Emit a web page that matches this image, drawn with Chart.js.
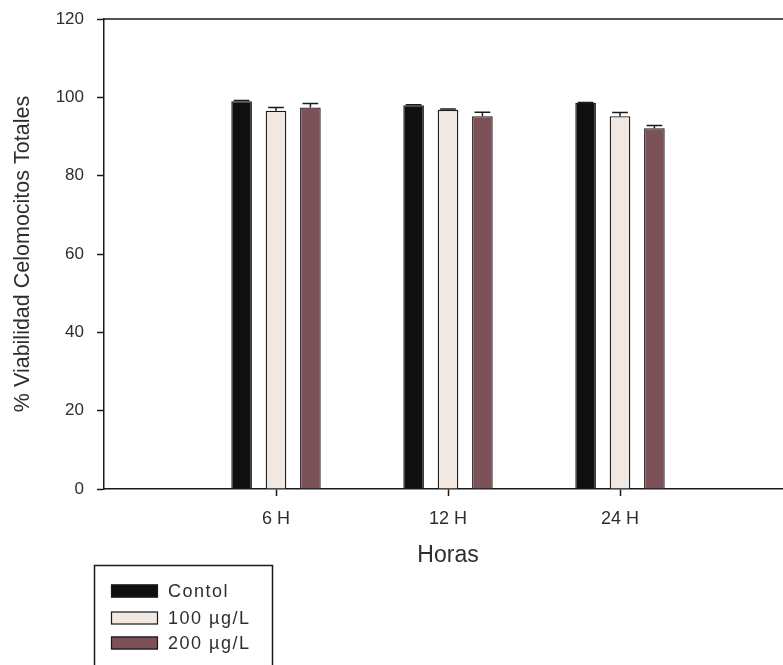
<!DOCTYPE html>
<html>
<head>
<meta charset="utf-8">
<script src="https://cdn.jsdelivr.net/npm/chart.js@4/dist/chart.umd.min.js"></script>
<style>
  html, body { margin: 0; padding: 0; background: #fff; overflow: hidden; }
  #wrap { width: 820px; height: 665px; }
</style>
</head>
<body>
<div id="wrap"><canvas id="c" width="820" height="665"></canvas></div>
<script>
// Sampling times
const categories = ['6 H', '12 H', '24 H'];

// Mean viability (%) per treatment
const controlValues = [99.0, 98.0, 98.6];
const dose100Values = [96.6, 96.8, 95.2];
const dose200Values = [97.4, 95.2, 92.1];

// Standard error (upper bar only)
const controlErrors = [0.2, 0.1, 0.1];
const dose100Errors = [0.8, 0.2, 0.9];
const dose200Errors = [1.0, 1.0, 0.7];

const seriesLabels = ['Contol', '100 \u00b5g/L', '200 \u00b5g/L'];
const yTicks = [0, 20, 40, 60, 80, 100, 120];

const FONT = '"Liberation Sans", Arial, sans-serif';
const INK = '#1a1a1a';
const TEXT = '#2e2e2e';

// Blank slots at both ends keep the groups at the inner positions
const axisLabels = ['', ...categories, ''];
const pad = arr => [null, ...arr, null];

const errorSets = [controlErrors, dose100Errors, dose200Errors];

const errorBars = {
  id: 'errorBars',
  afterDatasetsDraw(chart) {
    const ctx = chart.ctx;
    const y = chart.scales.y;
    ctx.save();
    ctx.strokeStyle = INK;
    ctx.lineWidth = 1.5;
    chart.data.datasets.forEach((ds, di) => {
      const meta = chart.getDatasetMeta(di);
      meta.data.forEach((bar, i) => {
        const v = ds.data[i];
        if (v == null) return;
        const err = errorSets[di][i - 1];
        const yTop = y.getPixelForValue(v);
        const yErr = y.getPixelForValue(v + err);
        const half = bar.width * 0.38;
        ctx.beginPath();
        ctx.moveTo(bar.x, yTop);
        ctx.lineTo(bar.x, yErr);
        ctx.moveTo(bar.x - half, yErr);
        ctx.lineTo(bar.x + half, yErr);
        ctx.stroke();
      });
    });
    ctx.restore();
  }
};

const frameAndLegend = {
  id: 'frameAndLegend',
  afterDraw(chart) {
    const ctx = chart.ctx;
    const a = chart.chartArea;
    ctx.save();
    // top frame line
    ctx.strokeStyle = INK;
    ctx.lineWidth = 1.5;
    ctx.beginPath();
    ctx.moveTo(a.left, a.top);
    ctx.lineTo(a.right, a.top);
    ctx.stroke();

    // legend box
    ctx.lineWidth = 1.5;
    ctx.strokeRect(94.5, 565.5, 178, 130);
    const rows = [591, 618, 643];
    chart.data.datasets.forEach((ds, i) => {
      const cy = rows[i];
      ctx.fillStyle = ds.backgroundColor;
      ctx.fillRect(111, cy - 6.5, 47, 13);
      ctx.strokeStyle = INK;
      ctx.lineWidth = 1.2;
      ctx.strokeRect(111.5, cy - 6, 46, 12);
      ctx.fillStyle = TEXT;
      ctx.font = '18px ' + FONT;
      ctx.letterSpacing = '1.5px';
      ctx.textBaseline = 'middle';
      ctx.textAlign = 'left';
      ctx.fillText(ds.label, 168, cy + 1);
    });
    ctx.restore();
  }
};

const mkDataset = (label, values, color) => ({
  label,
  data: pad(values),
  backgroundColor: color,
  borderColor: INK,
  borderWidth: 1.3,
  categoryPercentage: 0.6,
  barPercentage: 0.6
});

new Chart(document.getElementById('c'), {
  type: 'bar',
  data: {
    labels: axisLabels,
    datasets: [
      mkDataset(seriesLabels[0], controlValues, '#0f0f0f'),
      mkDataset(seriesLabels[1], dose100Values, '#f1e8e2'),
      mkDataset(seriesLabels[2], dose200Values, '#7c5258')
    ]
  },
  options: {
    responsive: false,
    animation: false,
    layout: { padding: { top: 19, right: 28, bottom: 96, left: 0 } },
    plugins: { legend: { display: false }, tooltip: { enabled: false } },
    scales: {
      x: {
        type: 'category',
        offset: false,
        afterFit(scale) { scale.height = 80; },
        border: { display: true, color: INK, width: 1.5 },
        grid: {
          offset: false,
          drawOnChartArea: false,
          tickLength: 7,
          tickWidth: 1.5,
          tickColor: c => (c.tick && c.tick.label === '') ? 'rgba(0,0,0,0)' : INK
        },
        ticks: {
          autoSkip: false,
          maxRotation: 0,
          padding: 12,
          color: TEXT,
          font: { family: FONT, size: 18 }
        },
        title: {
          display: true,
          text: 'Horas',
          color: TEXT,
          padding: { top: 0, bottom: 0 },
          font: { family: FONT, size: 23 }
        }
      },
      y: {
        min: 0,
        max: 120,
        afterFit(scale) {
          scale.width = 104;
          scale.paddingTop = 0;
          scale.paddingBottom = 0;
        },
        afterBuildTicks(scale) { scale.ticks = yTicks.map(v => ({ value: v })); },
        border: { display: true, color: INK, width: 1.5 },
        grid: {
          drawOnChartArea: false,
          tickLength: 7,
          tickWidth: 1.5,
          tickColor: INK
        },
        ticks: {
          padding: 13,
          color: TEXT,
          font: { family: FONT, size: 17 }
        },
        title: {
          display: true,
          text: '% Viabilidad Celomocitos Totales',
          color: TEXT,
          padding: { top: 10, bottom: 0 },
          font: { family: FONT, size: 21.5 }
        }
      }
    }
  },
  plugins: [errorBars, frameAndLegend]
});
</script>
</body>
</html>
